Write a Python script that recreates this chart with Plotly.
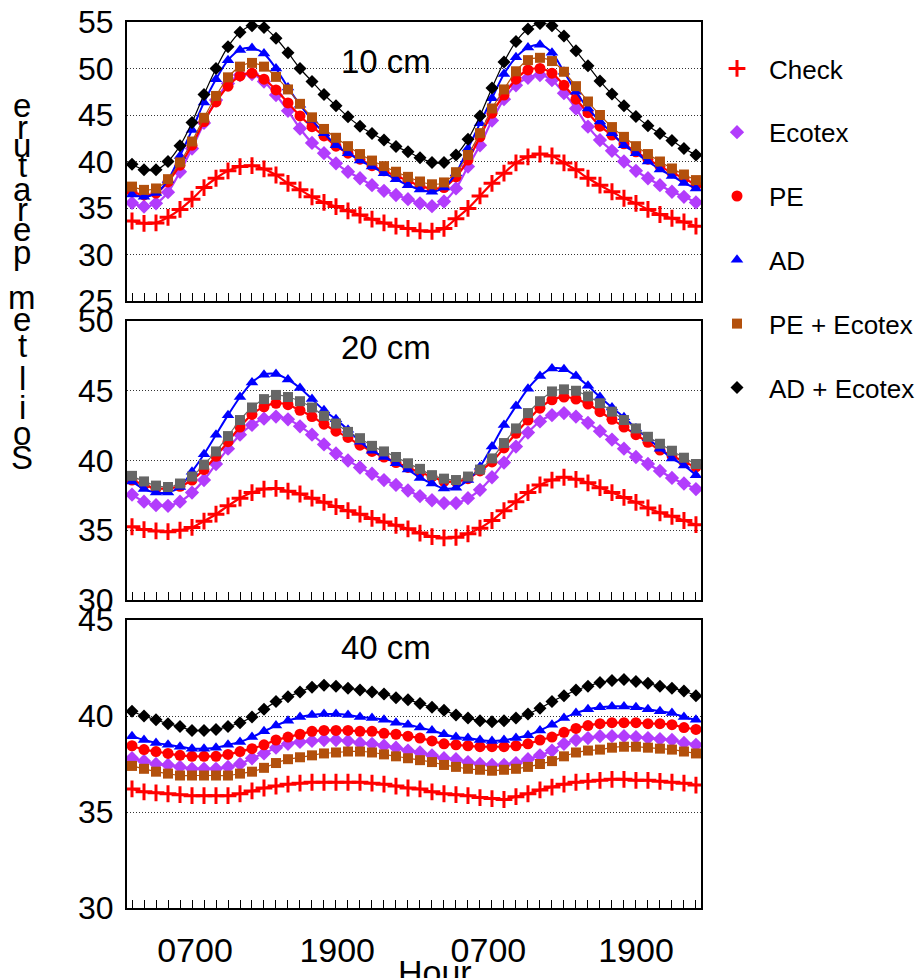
import plotly.graph_objects as go

# Hour index of each reading (48 hourly readings over two days)
hours = list(range(48))
hour_tick_pos = [5.25, 17.1, 29.7, 42.0]
hour_labels = ["0700", "1900", "0700", "1900"]

treatments = ["Check", "Ecotex", "PE", "AD", "PE + Ecotex", "AD + Ecotex"]

# ---- 10 cm depth ----
check_10 = [33.6, 33.35, 33.4, 34.0, 34.85, 35.95, 37.2, 38.2, 39.0, 39.45, 39.55, 39.2, 38.55, 37.65, 36.95, 36.2,
            35.6, 35.15, 34.7, 34.25, 33.8, 33.4, 33.05, 32.8, 32.55, 32.5, 32.8, 33.85, 34.95, 36.3, 37.65, 38.75,
            39.85, 40.5, 40.8, 40.6, 39.85, 39.1, 38.2, 37.45, 36.75, 36.05, 35.5, 34.85, 34.3, 33.9, 33.5, 33.05]
ecotex_10 = [35.55, 35.15, 35.5, 36.7, 38.9, 41.4, 44.15, 46.6, 48.4, 49.3, 49.4, 48.6, 47.15, 45.45, 43.55, 42.0,
             40.9, 39.8, 38.9, 38.2, 37.45, 36.85, 36.4, 35.95, 35.5, 35.2, 35.7, 37.1, 39.45, 41.75, 44.4, 46.7,
             48.2, 49.0, 49.3, 48.75, 47.35, 45.7, 43.75, 42.3, 41.15, 40.0, 39.0, 38.2, 37.45, 36.75, 36.2, 35.6]
pe_10 = [36.75, 36.4, 36.6, 37.8, 39.6, 41.75, 44.3, 46.4, 48.1, 49.2, 49.5, 48.85, 47.7, 46.3, 44.9, 43.75,
         42.75, 41.65, 40.9, 40.25, 39.55, 39.0, 38.45, 37.95, 37.35, 37.1, 37.2, 38.35, 40.15, 42.65, 45.2, 47.15,
         48.85, 49.85, 50.0, 49.5, 48.2, 46.7, 45.25, 43.8, 42.85, 41.9, 41.05, 40.25, 39.5, 38.8, 38.2, 37.45]
ad_10 = [36.45, 36.2, 36.6, 38.0, 40.6, 43.4, 46.35, 48.85, 50.9, 52.0, 52.2, 51.6, 50.0, 47.95, 46.1, 44.45,
         43.05, 41.75, 40.9, 40.1, 39.45, 38.75, 38.1, 37.45, 37.0, 36.75, 37.2, 38.75, 41.4, 44.1, 46.8, 49.4,
         51.2, 52.25, 52.55, 51.7, 49.65, 47.5, 45.7, 44.3, 43.05, 41.75, 40.9, 40.0, 39.15, 38.45, 37.7, 37.1]
pe_ecotex_10 = [37.3, 36.95, 37.1, 38.1, 39.9, 42.15, 44.7, 47.05, 49.05, 50.2, 50.6, 50.2, 49.1, 47.75, 46.2, 44.75,
                43.5, 42.55, 41.65, 40.8, 40.1, 39.5, 38.9, 38.35, 37.85, 37.55, 37.75, 38.85, 40.7, 43.05, 45.7, 47.75,
                49.7, 50.9, 51.15, 50.8, 49.65, 48.1, 46.45, 45.0, 43.7, 42.65, 41.65, 40.8, 40.0, 39.25, 38.6, 38.0]
ad_ecotex_10 = [39.7, 39.1, 39.1, 40.0, 41.7, 44.2, 47.2, 50.0, 52.35, 53.9, 54.6, 54.4, 53.25, 51.7, 50.0, 48.6,
                47.2, 46.0, 44.8, 43.8, 43.0, 42.3, 41.6, 41.05, 40.4, 39.9, 39.9, 40.7, 42.4, 44.9, 47.9, 50.7,
                52.9, 54.25, 54.85, 54.6, 53.5, 51.9, 50.3, 48.65, 47.25, 46.0, 44.85, 43.85, 43.0, 42.25, 41.4, 40.7]

# ---- 20 cm depth ----
check_20 = [35.25, 35.05, 34.95, 34.9, 35.0, 35.2, 35.65, 36.15, 36.75, 37.3, 37.7, 37.95, 38.0, 37.8, 37.6, 37.3,
            37.0, 36.7, 36.4, 36.15, 35.85, 35.6, 35.35, 35.1, 34.8, 34.55, 34.45, 34.5, 34.75, 35.15, 35.7, 36.4,
            37.05, 37.7, 38.25, 38.6, 38.8, 38.65, 38.4, 38.05, 37.7, 37.35, 37.0, 36.6, 36.25, 36.0, 35.7, 35.4]
ecotex_20 = [37.55, 37.05, 36.8, 36.75, 37.05, 37.7, 38.6, 39.75, 40.85, 41.85, 42.55, 43.0, 43.15, 42.95, 42.45, 41.85,
             41.15, 40.5, 40.0, 39.5, 39.05, 38.6, 38.25, 37.85, 37.45, 37.15, 36.95, 36.95, 37.3, 37.9, 38.8, 39.85,
             41.0, 42.0, 42.8, 43.25, 43.4, 43.15, 42.7, 42.1, 41.5, 40.85, 40.25, 39.75, 39.25, 38.75, 38.35, 37.95]
pe_20 = [38.6, 38.25, 38.0, 38.0, 38.15, 38.6, 39.35, 40.3, 41.35, 42.4, 43.3, 43.85, 44.1, 44.0, 43.6, 43.15,
         42.6, 42.1, 41.65, 41.1, 40.65, 40.25, 39.85, 39.5, 39.15, 38.85, 38.5, 38.5, 38.7, 39.25, 39.9, 40.9,
         41.95, 42.9, 43.75, 44.35, 44.55, 44.4, 44.05, 43.5, 42.95, 42.4, 41.85, 41.3, 40.75, 40.35, 39.9, 39.55]
ad_20 = [38.5, 37.95, 37.7, 37.7, 38.1, 39.2, 40.45, 41.85, 43.25, 44.55, 45.6, 46.15, 46.2, 45.8, 45.2, 44.4,
         43.6, 42.95, 42.2, 41.35, 40.7, 40.25, 39.8, 39.35, 38.75, 38.35, 38.0, 38.05, 38.6, 39.55, 41.0, 42.55,
         43.9, 45.15, 46.05, 46.6, 46.55, 46.05, 45.35, 44.55, 43.8, 43.1, 42.3, 41.6, 40.85, 40.15, 39.65, 38.95]
pe_ecotex_20 = [38.9, 38.5, 38.2, 38.1, 38.35, 38.85, 39.7, 40.65, 41.75, 42.9, 43.8, 44.4, 44.7, 44.55, 44.25, 43.8,
                43.2, 42.65, 42.05, 41.6, 41.05, 40.65, 40.25, 39.8, 39.4, 38.95, 38.7, 38.6, 38.85, 39.35, 40.15, 41.25,
                42.3, 43.4, 44.25, 44.95, 45.1, 45.0, 44.6, 44.1, 43.5, 42.9, 42.3, 41.7, 41.2, 40.7, 40.2, 39.75]

# ---- 40 cm depth ----
check_40 = [36.2, 36.05, 36.0, 35.95, 35.9, 35.85, 35.85, 35.85, 35.85, 35.95, 36.1, 36.25, 36.35, 36.45, 36.5, 36.55,
            36.55, 36.55, 36.55, 36.55, 36.5, 36.45, 36.35, 36.25, 36.2, 36.05, 35.95, 35.9, 35.85, 35.75, 35.7, 35.65,
            35.8, 35.95, 36.15, 36.3, 36.45, 36.55, 36.6, 36.65, 36.7, 36.7, 36.65, 36.65, 36.6, 36.55, 36.5, 36.4]
ecotex_40 = [37.8, 37.65, 37.5, 37.45, 37.35, 37.25, 37.25, 37.25, 37.35, 37.5, 37.8, 38.05, 38.35, 38.55, 38.65, 38.7,
             38.75, 38.75, 38.7, 38.6, 38.55, 38.45, 38.35, 38.2, 38.1, 37.95, 37.8, 37.75, 37.6, 37.5, 37.45, 37.45,
             37.55, 37.75, 37.95, 38.2, 38.55, 38.75, 38.85, 38.95, 38.95, 38.95, 38.9, 38.85, 38.8, 38.75, 38.6, 38.5]
pe_40 = [38.45, 38.25, 38.15, 38.05, 37.95, 37.9, 37.9, 37.9, 38.0, 38.15, 38.3, 38.5, 38.75, 38.9, 39.05, 39.2,
         39.25, 39.25, 39.25, 39.2, 39.2, 39.1, 39.05, 38.95, 38.85, 38.7, 38.55, 38.5, 38.45, 38.4, 38.4, 38.4,
         38.45, 38.55, 38.75, 38.9, 39.15, 39.35, 39.5, 39.6, 39.65, 39.65, 39.65, 39.6, 39.6, 39.55, 39.4, 39.3]
ad_40 = [38.95, 38.75, 38.6, 38.5, 38.4, 38.3, 38.3, 38.35, 38.5, 38.65, 38.9, 39.2, 39.5, 39.75, 39.95, 40.05,
         40.1, 40.1, 40.05, 39.95, 39.9, 39.8, 39.65, 39.55, 39.4, 39.25, 39.05, 38.9, 38.85, 38.75, 38.7, 38.75,
         38.85, 39.0, 39.25, 39.55, 39.9, 40.15, 40.35, 40.45, 40.5, 40.5, 40.45, 40.35, 40.25, 40.15, 39.95, 39.8]
pe_ecotex_40 = [37.4, 37.25, 37.1, 37.0, 36.9, 36.9, 36.9, 36.9, 36.9, 37.0, 37.1, 37.3, 37.55, 37.75, 37.85, 37.95,
                38.05, 38.1, 38.15, 38.15, 38.1, 38.0, 37.9, 37.8, 37.7, 37.6, 37.45, 37.35, 37.25, 37.2, 37.15, 37.2,
                37.25, 37.35, 37.5, 37.65, 37.9, 38.1, 38.2, 38.25, 38.35, 38.4, 38.4, 38.35, 38.3, 38.25, 38.15, 38.05]
ad_ecotex_40 = [40.25, 40.0, 39.8, 39.6, 39.45, 39.25, 39.25, 39.3, 39.45, 39.65, 39.95, 40.35, 40.75, 41.0, 41.25, 41.5,
                41.6, 41.55, 41.45, 41.35, 41.25, 41.15, 40.95, 40.85, 40.65, 40.45, 40.3, 40.05, 39.9, 39.75, 39.7, 39.75,
                39.9, 40.1, 40.4, 40.75, 41.05, 41.35, 41.55, 41.75, 41.85, 41.9, 41.8, 41.7, 41.55, 41.45, 41.3, 41.05]

depth_labels = ["10 cm", "20 cm", "40 cm"]
y_ranges = [(25, 55), (30, 50), (30, 45)]

panels = [
    {"Check": check_10, "Ecotex": ecotex_10, "PE": pe_10, "AD": ad_10,
     "PE + Ecotex": pe_ecotex_10, "AD + Ecotex": ad_ecotex_10},
    {"Check": check_20, "Ecotex": ecotex_20, "PE": pe_20, "AD": ad_20,
     "PE + Ecotex": pe_ecotex_20},
    {"Check": check_40, "Ecotex": ecotex_40, "PE": pe_40, "AD": ad_40,
     "PE + Ecotex": pe_ecotex_40, "AD + Ecotex": ad_ecotex_40},
]

# marker / line style per treatment
STYLE = {
    "Check":       dict(color="#ff0000", symbol="cross-thin", size=12, lw=2.2, mline=3),
    "Ecotex":      dict(color="#b23cfc", symbol="diamond", size=11, lw=2.2, mline=0),
    "PE":          dict(color="#ff0000", symbol="circle", size=11, lw=2.2, mline=0),
    "AD":          dict(color="#0000ff", symbol="triangle-up", size=11, lw=2.0, mline=0),
    "PE + Ecotex": dict(color="#b3500c", symbol="square", size=10, lw=1.2, mline=0),
    "AD + Ecotex": dict(color="#000000", symbol="diamond", size=10, lw=1.2, mline=0),
}
GREY_SQUARE = "#666666"   # PE + Ecotex at 20 cm is drawn in grey

# pixel layout of the page
W, H = 920, 978
L, R, T, B = 127, 701, 22, 908
panel_px = [(22, 301), (321, 600), (620, 908)]


def px_x(px):
    return (px - L) / (R - L)


def px_y(py):
    return (B - py) / (B - T)


fig = go.Figure()

for p, series in enumerate(panels):
    ax = "" if p == 0 else str(p + 1)
    for name in treatments:
        if name not in series:
            continue
        st = STYLE[name]
        color = st["color"]
        if p == 1 and name == "PE + Ecotex":
            color = GREY_SQUARE
        marker = dict(symbol=st["symbol"], size=st["size"], color=color)
        if st["mline"]:
            marker["line"] = dict(color=color, width=st["mline"])
        else:
            marker["line"] = dict(width=0)
        fig.add_trace(go.Scatter(
            x=hours, y=series[name], mode="lines+markers", name=name,
            line=dict(color=color, width=st["lw"], shape="spline", smoothing=0.8),
            marker=marker, showlegend=False, hoverinfo="skip",
            xaxis="x" + ax, yaxis="y" + ax))

# legend entries (markers only)
for name in treatments:
    st = STYLE[name]
    marker = dict(symbol=st["symbol"], size=st["size"], color=st["color"])
    if st["mline"]:
        marker["line"] = dict(color=st["color"], width=st["mline"])
    else:
        marker["line"] = dict(width=0)
    fig.add_trace(go.Scatter(x=[None], y=[None], mode="markers", name=name, legendgroup=name,
                             marker=marker, showlegend=True, xaxis="x", yaxis="y"))

FONT = "Liberation Sans, Arial, sans-serif"

layout = dict(
    width=W, height=H,
    margin=dict(l=L, r=W - R, t=T, b=H - B, autoexpand=False),
    paper_bgcolor="white", plot_bgcolor="white",
    font=dict(family=FONT, color="black"),
    showlegend=True,
    legend=dict(x=px_x(705), y=px_y(45), xanchor="left", yanchor="top",
                font=dict(family=FONT, size=26, color="black"),
                tracegroupgap=27, bgcolor="rgba(0,0,0,0)", itemwidth=54),
)

for p in range(3):
    ax = "" if p == 0 else str(p + 1)
    top, bot = panel_px[p]
    dom = [px_y(bot), px_y(top)]
    lo, hi = y_ranges[p]
    last = p == 2
    layout["xaxis" + ax] = dict(
        domain=[0, 1], anchor="y" + ax, range=[-0.417, 47.42],
        showgrid=False, zeroline=False, showline=True, mirror=True,
        linecolor="black", linewidth=2,
        tickmode="array", tickvals=hour_tick_pos, ticktext=hour_labels,
        ticks="", showticklabels=last,
        tickfont=dict(family=FONT, size=34, color="black"),
        ticklabelstandoff=11,
        minor=dict(ticks="inside", tick0=0, dtick=1, ticklen=8, tickwidth=1,
                   tickcolor="black", showgrid=False),
    )
    layout["yaxis" + ax] = dict(
        domain=dom, anchor="x" + ax, range=[lo, hi],
        tickmode="array", tickvals=list(range(lo, hi + 1, 5)),
        showgrid=True, gridcolor="#333333", griddash="1px,2px", gridwidth=1,
        zeroline=False, showline=True, mirror=True, linecolor="black", linewidth=2,
        ticks="", tickfont=dict(family=FONT, size=32, color="black"),
        ticklabelstandoff=5,
    )

fig.update_layout(**layout)

# depth labels inside each panel
title_px = [(386, 61), (386, 348), (386, 647)]
for text, (tx, ty) in zip(depth_labels, title_px):
    fig.add_annotation(text=text, x=px_x(tx), y=px_y(ty), xref="paper", yref="paper",
                       xanchor="center", yanchor="middle", showarrow=False,
                       font=dict(family=FONT, size=33, color="black"))

# x axis title
fig.add_annotation(text="Hour", x=px_x(435), y=px_y(951), xref="paper", yref="paper",
                   xanchor="center", yanchor="top", showarrow=False,
                   font=dict(family=FONT, size=34, color="black"))

# y axis title, letters stacked from the bottom up
y_title = "Soil temperature"
letter_y = {0: 457, 1: 433, 2: 408, 3: 378, 5: 345, 6: 319, 7: 297, 8: 252, 9: 230,
            10: 210, 11: 190, 12: 165, 13: 145, 14: 127, 15: 105}
for i, ch in enumerate(y_title):
    if ch == " ":
        continue
    fig.add_annotation(text=ch, x=px_x(22), y=px_y(letter_y[i]), xref="paper", yref="paper",
                       xanchor="center", yanchor="middle", showarrow=False,
                       font=dict(family=FONT, size=33, color="black"))

fig.write_html("out.html")
